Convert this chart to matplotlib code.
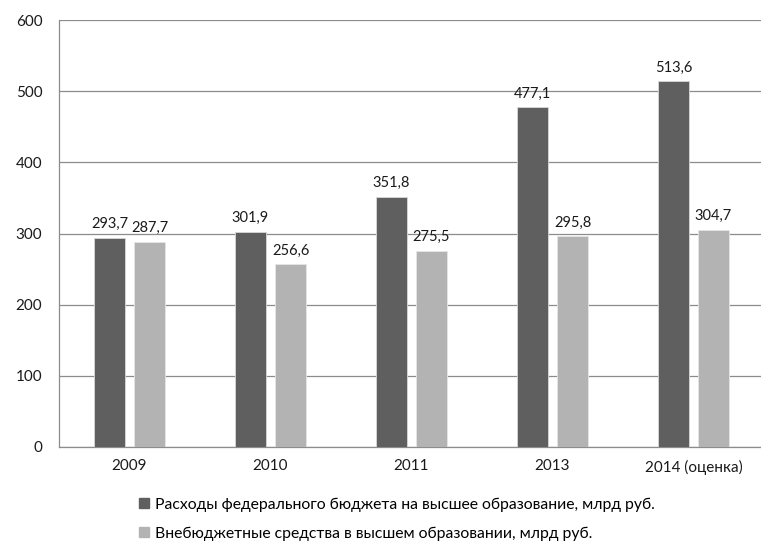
import numpy as np
import matplotlib.pyplot as plt
from matplotlib.patches import Patch

plt.rcParams['font.family'] = ['Lato', 'DejaVu Sans']

# data
years = ['2009', '2010', '2011', '2013', '2014 (оценка)']
federal = [293.7, 301.9, 351.8, 477.1, 513.6]
extra = [287.7, 256.6, 275.5, 295.8, 304.7]
label_federal = 'Расходы федерального бюджета на высшее образование, млрд руб.'
label_extra = 'Внебюджетные средства в высшем образовании, млрд руб.'

dark = '#5f5f5f'
light = '#b3b3b3'
grid_col = '#8c8c8c'

fig = plt.figure(figsize=(7.61, 5.43), dpi=100)
ax = fig.add_axes([59 / 761, 1 - 447 / 543, 702 / 761, 427 / 543])

x = np.arange(len(years))
w = 0.22
off = 0.142
b1 = ax.bar(x - off, federal, w, color=dark, edgecolor='#d9d9d9', linewidth=0.6, zorder=3)
b2 = ax.bar(x + off, extra, w, color=light, edgecolor='#e6e6e6', linewidth=0.6, zorder=3)

def fmt(v):
    return f'{v:.1f}'.replace('.', ',')

for bars, vals in ((b1, federal), (b2, extra)):
    for r, v in zip(bars, vals):
        ax.annotate(fmt(v), (r.get_x() + r.get_width() / 2, v), xytext=(0, 5),
                    textcoords='offset points', ha='center', va='bottom',
                    fontsize=10.5, color='#1a1a1a')

ax.set_xlim(-0.5, -0.5 + 702 / 141)
ax.set_ylim(0, 600)
ax.set_yticks(range(0, 601, 100))
ax.set_xticks(x)
ax.set_xticklabels(years)
ax.yaxis.grid(True, color=grid_col, linewidth=0.9, zorder=0)
ax.set_axisbelow(True)
for s in ['top', 'right']:
    ax.spines[s].set_visible(False)
for s in ['left', 'bottom']:
    ax.spines[s].set_color(grid_col)
    ax.spines[s].set_linewidth(0.9)
ax.tick_params(axis='both', length=0, labelsize=11, colors='#1a1a1a')
ax.tick_params(axis='y', pad=12)
ax.tick_params(axis='x', pad=9)

handles = [Patch(color=dark), Patch(color=light)]
fig.legend(handles, [label_federal, label_extra], loc='upper left',
           bbox_to_anchor=(133 / 761, 1 - 491 / 543), frameon=False,
           fontsize=11.3, handlelength=0.63, handleheight=0.63,
           handletextpad=0.35, labelspacing=0.95, borderaxespad=0)

fig.savefig('out.png', dpi=100)
